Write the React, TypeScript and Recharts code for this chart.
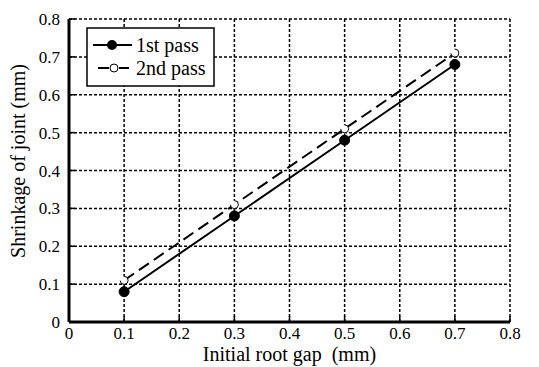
import { LineChart, Line, XAxis, YAxis, CartesianGrid } from "recharts";

const gaps = [0.1, 0.3, 0.5, 0.7];
const firstPass = [0.08, 0.28, 0.48, 0.68];
const secondPass = [0.11, 0.31, 0.51, 0.71];
const xTicks = [0, 0.1, 0.2, 0.3, 0.4, 0.5, 0.6, 0.7, 0.8];
const yTicks = [0, 0.1, 0.2, 0.3, 0.4, 0.5, 0.6, 0.7, 0.8];
const seriesNames = ["1st pass", "2nd pass"];

const data = gaps.map((g, i) => ({
  gap: g,
  first: firstPass[i],
  second: secondPass[i],
}));

const FONT = '"Liberation Serif", "Times New Roman", Times, serif';
const fmt = (v: number) => (v === 0 ? "0" : String(v));

// hand drawn legend box + y title, laid over the chart
function Overlay() {
  return (
    <svg
      width={539}
      height={367}
      style={{ position: "absolute", left: 0, top: 0, pointerEvents: "none" }}
    >
      <rect x={87} y={28} width={127} height={58} fill="#fff" stroke="#000" strokeWidth={1.5} />
      {/* 1st pass */}
      <line x1={93} x2={132} y1={45} y2={45} stroke="#000" strokeWidth={2} />
      <circle cx={112} cy={45} r={5} fill="#000" />
      <text x={136} y={52} fontSize={20} fill="#000">
        {seriesNames[0]}
      </text>
      {/* 2nd pass */}
      <line x1={98} x2={109} y1={68} y2={68} stroke="#000" strokeWidth={2} />
      <line x1={119} x2={129} y1={68} y2={68} stroke="#000" strokeWidth={2} />
      <circle cx={114} cy={68} r={4} fill="#fff" stroke="#000" strokeWidth={1} />
      <text x={136} y={75} fontSize={20} fill="#000">
        {seriesNames[1]}
      </text>
      <text
        x={25}
        y={161}
        fontSize={20}
        fill="#000"
        textAnchor="middle"
        transform="rotate(-90 25 161)"
      >
        Shrinkage of joint (mm)
      </text>
    </svg>
  );
}

export default function App() {
  return (
    <div
      style={{
        position: "absolute",
        left: 0,
        top: 0,
        width: 539,
        height: 367,
        background: "#fff",
        fontFamily: FONT,
      }}
    >
      <style>{`svg text, svg tspan { font-family: ${FONT} !important; }`}</style>
      <LineChart
        width={539}
        height={367}
        data={data}
        margin={{ top: 19, right: 29, left: 0, bottom: 0 }}
      >
        <CartesianGrid
          stroke="#000"
          strokeWidth={1.5}
          strokeDasharray="3 2"
          horizontalValues={yTicks}
          verticalValues={xTicks}
        />
        <XAxis
          dataKey="gap"
          type="number"
          domain={[0, 0.8]}
          ticks={xTicks}
          tickFormatter={fmt}
          height={45}
          axisLine={{ stroke: "#000", strokeWidth: 3 }}
          tickLine={{ stroke: "#000", strokeWidth: 1.5 }}
          tickSize={-6}
          tickMargin={11}
          tick={{ fill: "#000", fontSize: 17 }}
          label={{
            value: "Initial root gap\u00a0\u00a0(mm)",
            position: "insideBottom",
            offset: 6,
            fill: "#000",
            fontSize: 20,
          }}
        />
        <XAxis
          xAxisId="top"
          dataKey="gap"
          type="number"
          orientation="top"
          domain={[0, 0.8]}
          ticks={xTicks}
          height={0}
          mirror
          axisLine={{ stroke: "#000", strokeWidth: 3 }}
          tickLine={{ stroke: "#000", strokeWidth: 1.5 }}
          tickSize={6}
          tickFormatter={() => ""}
        />
        <YAxis
          type="number"
          domain={[0, 0.8]}
          ticks={yTicks}
          tickFormatter={fmt}
          width={69}
          axisLine={{ stroke: "#000", strokeWidth: 3 }}
          tickLine={{ stroke: "#000", strokeWidth: 1.5 }}
          tickSize={-6}
          tickMargin={15}
          tick={{ fill: "#000", fontSize: 17 }}
        />
        <YAxis
          yAxisId="right"
          type="number"
          orientation="right"
          domain={[0, 0.8]}
          ticks={yTicks}
          width={0}
          mirror
          axisLine={{ stroke: "#000", strokeWidth: 3 }}
          tickLine={{ stroke: "#000", strokeWidth: 1.5 }}
          tickSize={6}
          tickFormatter={() => ""}
        />
        <Line
          dataKey="first"
          name={seriesNames[0]}
          stroke="#000"
          strokeWidth={2}
          dot={{ r: 5, fill: "#000", stroke: "#000", strokeWidth: 1 }}
          isAnimationActive={false}
        />
        <Line
          dataKey="second"
          name={seriesNames[1]}
          stroke="#000"
          strokeWidth={2}
          strokeDasharray="12 6"
          dot={{ r: 4, fill: "#fff", stroke: "#000", strokeWidth: 1 }}
          isAnimationActive={false}
        />
      </LineChart>
      <Overlay />
    </div>
  );
}
